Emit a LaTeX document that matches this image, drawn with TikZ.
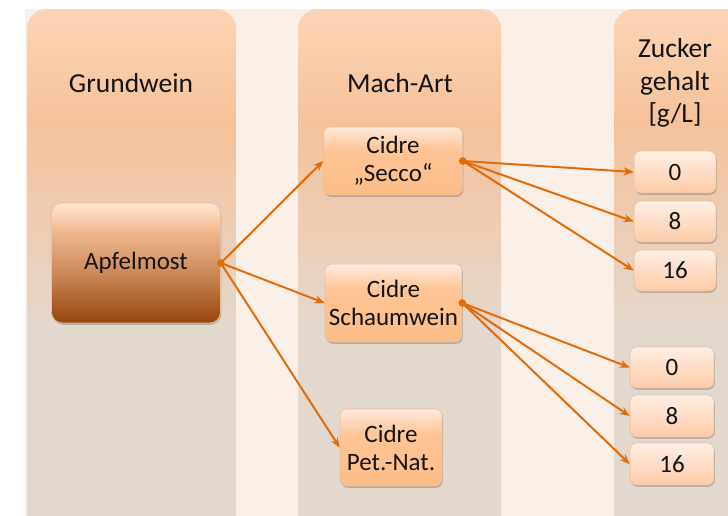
\documentclass[tikz,border=0pt]{standalone}
\usepackage{fontspec}
\setmainfont{Carlito}
\usetikzlibrary{arrows.meta,shadows}
\definecolor{cream}{HTML}{FAF0E8}
\definecolor{coltop}{HTML}{FBD5B6}
\definecolor{colmid}{HTML}{F6C29A}
\definecolor{colbot}{HTML}{E3D8CE}
\definecolor{appletop}{HTML}{FFE5D3}
\definecolor{appleup}{HTML}{F3BB93}
\definecolor{applemid}{HTML}{CF8D5E}
\definecolor{applebot}{HTML}{96450A}
\definecolor{bxtop}{HTML}{FFEBDD}
\definecolor{bxup}{HTML}{FFC596}
\definecolor{bxbot}{HTML}{FDBC86}
\definecolor{ztop}{HTML}{FFF0E6}
\definecolor{zbot}{HTML}{FDCAA5}
\definecolor{boxedge}{HTML}{E2C2A8}
\definecolor{arr}{HTML}{E36C0A}
\definecolor{txt}{HTML}{141414}
\pgfdeclareverticalshading{colshade}{100bp}{color(0bp)=(colbot); color(25bp)=(colbot); color(45bp)=(colbot); color(64.5bp)=(colmid); color(75bp)=(coltop); color(100bp)=(coltop)}
\pgfdeclareverticalshading{appleshade}{100bp}{color(0bp)=(applebot); color(25bp)=(applebot); color(47.5bp)=(applemid); color(64bp)=(appleup); color(75bp)=(appletop); color(100bp)=(appletop)}
\pgfdeclareverticalshading{bxshade}{100bp}{color(0bp)=(bxbot); color(25bp)=(bxbot); color(59bp)=(bxup); color(75bp)=(bxtop); color(100bp)=(bxtop)}
\pgfdeclareverticalshading{zshade}{100bp}{color(0bp)=(zbot); color(25bp)=(zbot); color(75bp)=(ztop); color(100bp)=(ztop)}
\tikzset{
  boxbase/.style={rectangle, rounded corners=7pt, draw=boxedge, line width=0.6pt,
    align=center, text=txt, inner sep=0pt,
    font=\fontsize{25}{28}\selectfont,
    drop shadow={shadow xshift=0.8pt, shadow yshift=-1.8pt, opacity=0.3, fill=black!70}},
  applebox/.style={boxbase, shading=appleshade, rounded corners=11pt},
  cidrebox/.style={boxbase, shading=bxshade},
  zbox/.style={boxbase, shading=zshade, minimum width=82pt},
  title/.style={align=center, text=txt, inner sep=0pt, font=\fontsize{27.5}{32.5}\selectfont},
  conn/.style={draw=arr, line width=2pt, -{Stealth[length=10pt,width=8pt]}},
  dot/.style={fill=arr}
}
\begin{document}
\begin{tikzpicture}[x=1pt,y=-1pt]
\useasboundingbox (0,0) rectangle (728,515);
\fill[white] (0,0) rectangle (728,515);
\begin{scope}
\clip (0,0) rectangle (728,515);
\fill[cream] (25,9) rectangle (740,530);
\shade[shading=colshade, rounded corners=20pt] (27,9) rectangle (236,545);
\shade[shading=colshade, rounded corners=20pt] (298,9) rectangle (501,545);
\shade[shading=colshade, rounded corners=20pt] (614,9) rectangle (800,545);
\end{scope}

\node[title] (tg) at (131,83) {Grundwein};
\node[title] (tm) at (400,83) {Mach-Art};
\node[title] (tz) at (675,83) {Zucker\\gehalt\\{}[g/L]};

\node[applebox, minimum width=169pt, minimum height=120pt] (apfel) at (136,263) {Apfelmost};
\node[cidrebox, minimum width=139pt, minimum height=68pt] (secco) at (393,161) {Cidre\\„Secco“};
\node[cidrebox, minimum width=137pt, minimum height=78pt] (schaum) at (393.5,303) {Cidre\\Schaumwein};
\node[cidrebox, minimum width=102pt, minimum height=77pt] (petnat) at (391,447.5) {Cidre\\Pet.-Nat.};

\node[zbox, minimum height=42pt] (za0) at (675,172) {0};
\node[zbox, minimum height=41pt] (za8) at (675,221.5) {8};
\node[zbox, minimum height=41pt] (za16) at (675,270.5) {16};
\node[zbox, minimum width=84pt, minimum height=41pt] (zb0) at (672,367.5) {0};
\node[zbox, minimum width=84pt, minimum height=42pt] (zb8) at (672,416) {8};
\node[zbox, minimum width=84pt, minimum height=42pt] (zb16) at (672,464) {16};

\draw[conn] (apfel.east) -- (secco.west);
\draw[conn] (apfel.east) -- (schaum.west);
\draw[conn] (apfel.east) -- (petnat.west);
\draw[conn] (secco.east) -- (za0.west);
\draw[conn] (secco.east) -- (za8.west);
\draw[conn] (secco.east) -- (za16.west);
\draw[conn] (schaum.east) -- (zb0.west);
\draw[conn] (schaum.east) -- (zb8.west);
\draw[conn] (schaum.east) -- (zb16.west);
\fill[dot] (apfel.east) circle (3.8pt);
\fill[dot] (secco.east) circle (3.8pt);
\fill[dot] (schaum.east) circle (3.8pt);
\end{tikzpicture}
\end{document}
